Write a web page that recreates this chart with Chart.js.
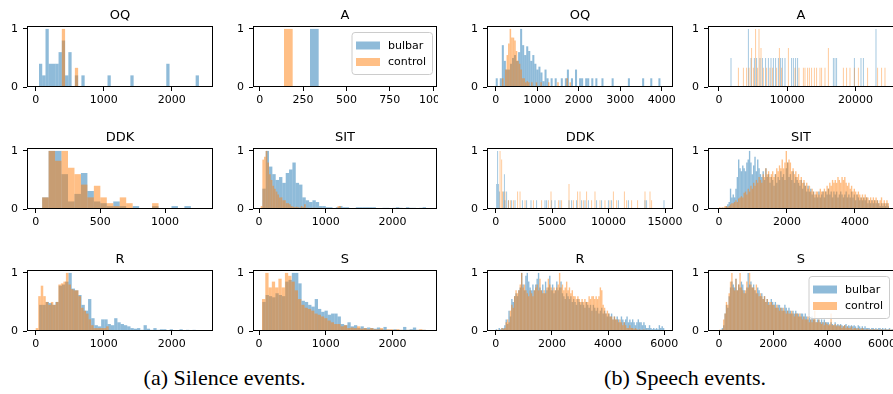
<!DOCTYPE html>
<html><head><meta charset="utf-8">
<script src="https://cdn.jsdelivr.net/npm/chart.js"></script>
<style>
html,body{margin:0;padding:0;background:#fff;overflow:hidden;width:893px;height:394px;position:relative;}
canvas{position:absolute;}
.cap{position:absolute;font-family:'Liberation Serif','Times New Roman',serif;font-size:22px;line-height:22px;white-space:nowrap;transform:translateX(-50%);color:#000;}
</style></head><body>
<div class="cap" style="left:224.5px;top:367px">(a) Silence events.</div>
<div class="cap" style="left:685px;top:367px">(b) Speech events.</div>
<script>
// ---------- series names ----------
const seriesNames = ['bulbar', 'control'];
const yTicks = [0, 1];

// ---------- (a) Silence events ----------
// bins: [first edge, bin width]
const silOQ_bin = [48, 48];
const silOQ_bulbar = [0.4,0.2,1,0.4,0.4,0.4,0.6,0.8,0.2,0.6, 0,0.2,0,0.2,0,0,0,0,0,0, 0,0.2,0,0,0,0,0,0,0.2,0, 0,0,0,0,0,0,0,0,0,0.4, 0,0,0,0,0,0,0,0,0.2,0];
const silOQ_control = [0,0,0,0,0,0,0,1,0,0,0,0.33];
const silOQ_ticks = [0, 1000, 2000];

const silA_bin = [140, 50];
const silA_bulbar = [0,0,0,1];
const silA_control = [1,0];
const silA_ticks = [0, 250, 500, 750, 1000];

const silDDK_bin = [50, 50];
const silDDK_bulbar = [0.2,1,1,0.6,0.13,0.26,0.62,0.31,0.13,0.1,0.05,0.13,0.05,0,0.05,0,0,0.05,0,0,0.05,0,0.05];
const silDDK_control = [0.2,1,0.83,1,0.71,0.6,0.42,0.2,0.4,0.2,0.1,0.05,0.2,0.1,0,0,0,0.1];
const silDDK_ticks = [0, 500, 1000];

const silSIT_bulbarBin = [50, 50];
const silSIT_bulbar = [0.35,1,0.73,0.6,0.5,0.55,0.45,0.62,0.68,0.8, 0.45,0.42,0.2,0.15,0.12,0.15,0.12,0.05,0.05,0.03, 0.03,0,0.03,0.05,0.03,0.03,0,0,0.03,0.03, 0.03,0.03,0.03,0.03,0,0,0.02,0.02,0,0.02, 0.03,0.02,0,0.03,0.02,0.02,0,0.02,0.03];
const silSIT_controlBin = [25, 25];
const silSIT_control = [0.05,0.85,0.9,1,0.8,0.6,0.5,0.4,0.35,0.3, 0.25,0.2,0.2,0.15,0.15,0.1,0.1,0.08,0.05,0.04, 0.03,0.04,0.03,0.02,0.05,0.03,0.08,0.02,0.02,0, 0.02,0.02,0.02,0,0.02,0,0.02,0,0,0, 0,0,0,0,0,0,0.05,0.05];
const silSIT_ticks = [0, 1000, 2000];

const silR_bulbarBin = [50, 48];
const silR_bulbar = [0.45,0.45,0.5,0.48,0.45,0.5,0.78,0.8,0.85,1, 0.73,0.7,0.62,0.45,0.35,0.55,0.22,0.1,0.08,0.2, 0.2,0.12,0.1,0.22,0.15,0.12,0.1,0.08,0.05,0.04, 0.05,0.02,0.1,0.04,0.02,0.05,0.02,0.03,0.03,0, 0.03,0,0,0.03,0,0.02,0,0.02,0,0];
const silR_controlBin = [0, 37];
const silR_control = [0.05,0.6,0.78,0.6,0.5,0.45,0.5,0.45,0.5,0.8, 0.82,0.85,1,0.8,0.72,0.7,0.7,0.6,0.4,0.35, 0.3,0.2,0.1,0.05,0.05,0.05,0.05,0.05,0.08,0.02];
const silR_ticks = [0, 1000, 2000];

const silS_bulbarBin = [50, 49];
const silS_bulbar = [0.5,0.62,0.6,0.58,0.65,0.62,0.6,0.85,0.88,1, 1,0.82,0.52,0.5,0.45,0.42,0.55,0.38,0.33,0.35, 0.28,0.3,0.3,0.25,0.12,0.1,0.15,0.08,0.1,0.05, 0.08,0.05,0.06,0.05,0.04,0.06,0.03,0.07,0.02,0.02, 0.03,0.02,0.02,0.07,0.02,0.03,0.06,0.02,0.02,0.02];
const silS_controlBin = [45, 49];
const silS_control = [0.55,1,0.75,0.85,0.75,0.9,0.75,1,0.95,0.85, 0.7,0.55,0.45,0.4,0.38,0.35,0.3,0.28,0.25,0.22, 0.18,0.15,0.12,0.12,0.08,0.1,0.05,0.06,0.05,0.08, 0.04,0.05,0.03,0.05,0.03,0.03,0.05,0.02,0.03,0.03, 0.02,0.03,0.02,0,0.02,0.02,0,0.02,0.03,0.02];
const silS_ticks = [0, 1000, 2000];

// ---------- (b) Speech events ----------
const spOQ_bulbarBin = [0, 49];
const spOQ_bulbar = [0.15,0,0.15,0.72,0.45,0.3,0.3,0.4,0.5,0.55, 0.45,0.6,1,0.72,0.55,0.7,0.62,0.45,0.55,0.4, 0.3,0.35,0.25,0.1,0.3,0.15,0,0.15,0,0.15, 0,0,0.15,0,0.15,0.3,0,0.15,0,0.3, 0,0.15,0.15,0,0.15,0.15,0,0.15,0,0.15, 0,0,0.15,0,0,0,0,0.15,0,0, 0,0,0,0,0,0.15,0,0,0,0, 0,0,0.15,0,0,0,0.15,0,0,0, 0.15];
const spOQ_controlBin = [150, 37];
const spOQ_control = [0.15,0,0.3,0.55,0.75,1,0.85,0.85,0.8,0.62, 0.45,0.4,0.3,0.15,0.15,0.08,0.1,0.08,0,0.08, 0,0,0.08,0,0,0.08,0,0,0,0, 0.08,0,0,0,0,0,0.08,0,0,0, 0,0,0.15,0,0.08];
const spOQ_ticks = [0, 1000, 2000, 3000, 4000];

const spA_bulbarX = [1757,4294,4685,5173,5514,6002,6344,6832,7222,7613,7954,8296,8686,9028,9272,9662,10638,10882,11224,11517,16738,16982,17226,19813,20789,21130,22985];
const spA_bulbarY = [0.5,1,0.5,0.5,0.5,0.5,0.5,0.5,0.5,0.5,0.5,0.5,0.5,0.5,0.5,0.5,0.5,0.5,0.5,0.5,0.5,0.5,0.5,0.5,0.5,0.5,1];
const spA_controlX = [2830,3562,4050,4392,4782,5026,5368,5661,5856,6149,6490,6978,7466,7857,8442,8833,9174,10150,11126,11712,12346,12590,12981,13225,13566,13957,14298,14786,15030,15518,16006,18202,18690,19178,19813,20398,21765,23229,23814,24302];
const spA_controlY = [0.33,0.33,0.33,0.33,0.67,0.33,1,0.33,1,0.67, 0.33,0.33,0.33,0.33,0.33,0.67,0.33,0.67,0.33,0.33, 0.33,0.33,0.33,0.33,0.33,0.33,0.33,0.33,0.33,0.33, 0.67,0.33,0.33,0.33,0.33,0.33,0.33,0.33,0.33,0.33];
const spA_ticks = [0, 10000, 20000];

const spDDK_bulbarX = [86,174,233,320,676,765,823,971,1119,1414, 1710,2359,2743,3127,3628,4366,4514,4957,5252,5695, 6492,6728,7171,7614,7909,8204,8943,9385,9976,10271, 10862,11748,13224,13371,14906];
const spDDK_bulbarY = [0.43,1,0.43,0.3,0.3,0.6,0.15,0.3,0.15,0.15, 0.15,0.15,0.15,0.15,0.15,0.15,0.15,0.15,0.15,0.15, 0.15,0.15,0.15,0.15,0.15,0.15,0.15,0.15,0.15,0.15, 0.15,0.15,0.15,0.15,0.15];
const spDDK_controlX = [384,532,591,823,1119,1296,1562,1946,2153,2596, 3334,4071,4661,4898,5547,5842,6492,6876,7260,7466, 7761,8056,8499,8794,9237,9680,10123,10418,10714,11393, 11600,12043,12574,13224,13667,13814];
const spDDK_controlY = [1,0.85,0.3,0.3,0.15,0.15,0.15,0.3,0.3,0.15, 0.15,0.15,0.15,0.3,0.15,0.15,0.43,0.15,0.3,0.3, 0.15,0.3,0.15,0.3,0.15,0.15,0.15,0.3,0.15,0.3, 0.15,0.15,0.15,0.3,0.3,0.15];
const spDDK_ticks = [0, 5000, 10000, 15000];

const spSIT_bin = [0, 40];
const spSIT_bulbar = [0,0,0,0.02,0.02,0.05,0.08,0.12,0.35,0.2, 0.25,0.2,0.35,0.55,0.85,0.7,0.65,0.75,0.7,0.65, 0.8,0.85,1,0.8,0.6,0.75,0.9,0.65,0.85,0.7, 0.6,0.55,0.65,0.5,0.7,0.55,0.6,0.45,0.55,0.5, 0.4,0.6,0.45,0.55,0.5,0.65,0.55,0.6,0.5,0.7, 0.8,0.55,0.6,0.5,0.65,0.45,0.55,0.5,0.45,0.4, 0.5,0.35,0.45,0.4,0.3,0.4,0.3,0.35,0.25,0.3, 0.2,0.25,0.2,0.3,0.2,0.25,0.3,0.2,0.3,0.25, 0.35,0.25,0.3,0.2,0.3,0.25,0.3,0.2,0.25,0.3, 0.25,0.2,0.25,0.3,0.2,0.25,0.2,0.3,0.2,0.25, 0.15,0.25,0.2,0.15,0.2,0.15,0.2,0.15,0.2,0.1, 0.15,0.1,0.15,0.1,0.15,0.1,0.15,0.1,0.05,0.1, 0.05,0.1,0.05,0.1,0.05];
const spSIT_control = [0.03,0.02,0.03,0.02,0.05,0.05,0.03,0.05,0.08,0.1, 0.1,0.12,0.15,0.12,0.18,0.2,0.22,0.2,0.28,0.3, 0.25,0.35,0.3,0.4,0.35,0.45,0.4,0.5,0.45,0.55, 0.5,0.45,0.6,0.55,0.7,0.6,0.65,0.55,0.6,0.65, 0.55,0.6,0.7,0.65,0.75,0.7,0.85,0.7,0.8,1, 0.8,0.85,0.8,0.65,0.7,0.6,0.65,0.55,0.6,0.5, 0.55,0.45,0.5,0.4,0.45,0.35,0.4,0.3,0.35,0.3, 0.25,0.3,0.3,0.25,0.35,0.3,0.3,0.35,0.3,0.4, 0.35,0.45,0.4,0.5,0.45,0.5,0.45,0.55,0.5,0.45, 0.55,0.5,0.55,0.45,0.4,0.45,0.35,0.4,0.3,0.35, 0.3,0.25,0.3,0.25,0.2,0.25,0.2,0.25,0.2,0.2, 0.15,0.2,0.15,0.2,0.15,0.2,0.15,0.1,0.15,0.2, 0.1,0.15,0.1,0.15,0.1];
const spSIT_ticks = [0, 2000, 4000];

const spR_bin = [0, 50];
const spR_bulbar = [0.03,0,0.05,0.03,0.05,0.05,0.1,0.2,0.12,0.35, 0.25,0.55,0.5,0.6,0.65,0.6,0.7,0.75,1,0.8, 0.7,0.95,1,0.85,0.75,0.7,0.8,0.7,0.8,0.9, 1,0.75,0.7,0.8,0.65,0.85,0.7,0.75,0.95,0.7, 0.8,0.65,0.7,0.85,0.7,0.75,0.85,0.65,0.6,0.55, 0.65,0.6,0.55,0.6,0.5,0.55,0.5,0.45,0.55,0.5, 0.45,0.5,0.45,0.4,0.5,0.45,0.4,0.45,0.35,0.45, 0.4,0.35,0.4,0.3,0.35,0.4,0.3,0.35,0.3,0.25, 0.3,0.25,0.3,0.2,0.25,0.2,0.25,0.2,0.15,0.25, 0.2,0.15,0.2,0.25,0.15,0.2,0.15,0.2,0.15,0.1, 0.15,0.2,0.15,0.15,0.1,0.15,0.1,0.05,0.05,0.1, 0.05,0.03,0.05,0.03,0.05,0.03,0.1,0.05,0.08,0.05];
const spR_control = [0,0.02,0,0.02,0.05,0.03,0.05,0.15,0.2,0.15, 0.35,0.45,0.4,0.6,0.7,0.65,0.7,0.8,1,0.75, 0.8,0.7,0.65,0.6,0.7,0.65,0.6,0.7,0.75,0.8, 0.7,0.9,0.7,0.65,0.7,0.65,0.75,0.9,0.8,0.75, 0.7,0.75,0.7,0.75,0.8,1,0.75,0.8,0.7,0.75, 0.85,0.7,0.75,0.65,0.7,0.6,0.6,0.55,0.6,0.55, 0.5,0.55,0.5,0.55,0.5,0.5,0.6,0.55,0.6,0.6, 0.55,0.6,0.55,0.6,0.75,0.7,0.45,0.4,0.3,0.35, 0.3,0.25,0.25,0.2,0.25,0.2,0.2,0.15,0.2,0.15, 0.1,0.15,0.1,0.05,0.05,0.1,0.05,0.05,0.03,0.05, 0.03,0.02,0.03,0,0.02,0.03,0,0.02];
const spR_ticks = [0, 2000, 4000, 6000];

const spS_bin = [0, 50];
const spS_bulbar = [0,0.02,0.05,0.1,0.3,0.45,0.4,0.6,0.75,0.85, 0.8,0.75,0.9,0.7,0.8,0.75,0.85,0.8,0.7,0.65, 0.75,1,0.8,0.85,0.75,0.8,0.7,0.65,0.75,0.7, 0.6,0.65,0.55,0.6,0.5,0.55,0.5,0.45,0.55,0.5, 0.45,0.5,0.4,0.45,0.45,0.4,0.4,0.35,0.45,0.4, 0.35,0.4,0.35,0.3,0.35,0.3,0.35,0.3,0.3,0.25, 0.3,0.3,0.25,0.3,0.25,0.2,0.25,0.2,0.25,0.2, 0.2,0.15,0.2,0.2,0.15,0.2,0.15,0.2,0.15,0.15, 0.15,0.1,0.15,0.12,0.1,0.15,0.1,0.12,0.1,0.12, 0.1,0.08,0.1,0.12,0.08,0.1,0.08,0.1,0.08,0.1, 0.08,0.05,0.1,0.08,0.05,0.08,0.05,0.08,0.05,0.05, 0.05,0.03,0.05,0.05,0.03,0.05,0.03,0.05,0.05,0.03, 0.05,0.03,0.05,0.03,0.03,0.05,0.02,0.03,0.03];
const spS_control = [0.02,0,0.03,0.2,0.3,0.5,0.45,0.65,0.85,1, 0.75,0.7,0.9,0.7,0.8,1,0.75,0.7,0.65,0.7, 0.85,0.75,1,0.8,0.75,0.75,0.7,0.8,0.65,0.6, 0.65,0.6,0.55,0.6,0.5,0.55,0.45,0.5,0.5,0.45, 0.45,0.4,0.45,0.4,0.35,0.4,0.35,0.4,0.35,0.3, 0.35,0.3,0.3,0.35,0.3,0.25,0.3,0.3,0.25,0.3, 0.25,0.2,0.25,0.2,0.2,0.25,0.15,0.2,0.15,0.2, 0.35,0.15,0.15,0.2,0.15,0.12,0.15,0.1,0.15,0.12, 0.1,0.12,0.3,0.1,0.1,0.12,0.08,0.1,0.08,0.1, 0.05,0.08,0.1,0.05,0.08,0.05,0.05,0.08,0.03,0.05, 0.05,0.03,0.05,0.03,0.03,0.05,0.03,0.02,0.03,0.03, 0.02,0.03,0.02,0.03,0.03,0.02,0.03,0.02,0.02,0.03, 0.02,0.02,0.03,0.02,0.02,0.03,0.02,0.02,0.03];
const spS_ticks = [0, 2000, 4000, 6000];

// ---------- helpers ----------
function binned(bin, vals) { return vals.map((v, i) => ({ x: bin[0] + (i + 0.5) * bin[1], y: v })); }
function spikes(xs, ys) { return xs.map((x, i) => ({ x: x, y: ys[i] })); }

const BLUE = 'rgba(31,119,180,0.5)';
const ORANGE = 'rgba(255,127,14,0.5)';
Chart.defaults.font.family = "'DejaVu Sans', sans-serif";
Chart.defaults.font.size = 11;
Chart.defaults.color = '#000';

// layout (frame positions in page pixels)
const COLS = [{ L: 27, W: 186, PR: 20 }, { L: 253, W: 184, PR: 1 }, { L: 487, W: 186, PR: 20 }, { L: 708, W: 186, PR: 10 }];
const ROWS = [26, 148, 270];
const PH = 61, PL = 30, PT = 24, PB = 22;

const panels = [
  { t: 'OQ', c: 0, r: 0, xr: [-128, 2607], ticks: silOQ_ticks, b: binned(silOQ_bin, silOQ_bulbar), o: binned(silOQ_bin, silOQ_control) },
  { t: 'A', c: 1, r: 0, xr: [-39, 1023], ticks: silA_ticks, b: binned(silA_bin, silA_bulbar), o: binned(silA_bin, silA_control), legend: true },
  { t: 'DDK', c: 0, r: 1, xr: [-67, 1371], ticks: silDDK_ticks, b: binned(silDDK_bin, silDDK_bulbar), o: binned(silDDK_bin, silDDK_control) },
  { t: 'SIT', c: 1, r: 1, xr: [-90, 2665], ticks: silSIT_ticks, b: binned(silSIT_bulbarBin, silSIT_bulbar), o: binned(silSIT_controlBin, silSIT_control) },
  { t: 'R', c: 0, r: 2, xr: [-128, 2607], ticks: silR_ticks, b: binned(silR_bulbarBin, silR_bulbar), o: binned(silR_controlBin, silR_control) },
  { t: 'S', c: 1, r: 2, xr: [-90, 2665], ticks: silS_ticks, b: binned(silS_bulbarBin, silS_bulbar), o: binned(silS_controlBin, silS_control) },
  { t: 'OQ', c: 2, r: 0, xr: [-210, 4272], ticks: spOQ_ticks, b: binned(spOQ_bulbarBin, spOQ_bulbar), o: binned(spOQ_controlBin, spOQ_control) },
  { t: 'A', c: 3, r: 0, xr: [-1610, 25622], ticks: spA_ticks, b: spikes(spA_bulbarX, spA_bulbarY), o: spikes(spA_controlX, spA_controlY), thin: true },
  { t: 'DDK', c: 2, r: 1, xr: [-771, 15704], ticks: spDDK_ticks, b: spikes(spDDK_bulbarX, spDDK_bulbarY), o: spikes(spDDK_controlX, spDDK_controlY), thin: true },
  { t: 'SIT', c: 3, r: 1, xr: [-323, 5147], ticks: spSIT_ticks, b: binned(spSIT_bin, spSIT_bulbar), o: binned(spSIT_bin, spSIT_control) },
  { t: 'R', c: 2, r: 2, xr: [-310, 6310], ticks: spR_ticks, b: binned(spR_bin, spR_bulbar), o: binned(spR_bin, spR_control) },
  { t: 'S', c: 3, r: 2, xr: [-405, 6441], ticks: spS_ticks, b: binned(spS_bin, spS_bulbar), o: binned(spS_bin, spS_control), legend: true }
];

const deco = {
  id: 'deco',
  afterDatasetsDraw(chart, args, opts) {
    const ctx = chart.ctx, ca = chart.chartArea;
    ctx.save();
    ctx.strokeStyle = '#000';
    ctx.lineWidth = 1;
    ctx.strokeRect(ca.left + 0.5, ca.top + 0.5, ca.right - ca.left - 1, ca.bottom - ca.top - 1);
    ctx.fillStyle = '#000';
    ctx.font = "13px 'DejaVu Sans'";
    ctx.textAlign = 'center';
    ctx.textBaseline = 'alphabetic';
    ctx.fillText(opts.title, (ca.left + ca.right) / 2, ca.top - 7);
    if (opts.legend) {
      const bw = 80.5, bh = 42;
      const bx = ca.right - 5 - bw, by = ca.top + 6;
      ctx.beginPath();
      ctx.roundRect(bx + 0.5, by + 0.5, bw, bh, 3);
      ctx.fillStyle = 'rgba(255,255,255,0.8)';
      ctx.fill();
      ctx.strokeStyle = '#cccccc';
      ctx.stroke();
      ctx.font = "11px 'DejaVu Sans'";
      ctx.textAlign = 'left';
      ctx.textBaseline = 'middle';
      chart.data.datasets.forEach((ds, i) => {
        const py = by + 9.5 + i * 16.5;
        ctx.fillStyle = ds.backgroundColor;
        ctx.fillRect(bx + 4.5, py, 24, 8);
        ctx.fillStyle = '#000';
        ctx.fillText(ds.label, bx + 36.5, py + 4.5);
      });
    }
    ctx.restore();
  }
};

panels.forEach((p) => {
  const col = COLS[p.c];
  const T = ROWS[p.r];
  const cv = document.createElement('canvas');
  const w = PL + col.W + col.PR, h = PT + PH + PB;
  cv.width = w; cv.height = h;
  cv.style.width = w + 'px'; cv.style.height = h + 'px';
  cv.style.left = (col.L - PL) + 'px';
  cv.style.top = (T - PT) + 'px';
  document.body.appendChild(cv);
  const barOpts = { borderWidth: 0, inflateAmount: 0, grouped: false, barPercentage: 1, categoryPercentage: 1 };
  if (p.thin) barOpts.barThickness = 0.8;
  const tickGrid = { display: true, drawOnChartArea: false, drawTicks: true, tickLength: 4, color: '#000', lineWidth: 1, offset: false };
  new Chart(cv, {
    type: 'bar',
    data: {
      datasets: [
        Object.assign({ label: seriesNames[0], data: p.b, xAxisID: 'x', yAxisID: 'y', backgroundColor: BLUE, order: 1 }, barOpts),
        Object.assign({ label: seriesNames[1], data: p.o, xAxisID: 'x2', yAxisID: 'y', backgroundColor: ORANGE, order: 0 }, barOpts)
      ]
    },
    options: {
      responsive: false, animation: false, events: [], devicePixelRatio: 1,
      layout: { padding: { left: 0, top: PT, right: col.PR, bottom: 0 } },
      plugins: { legend: { display: false }, tooltip: { enabled: false }, title: { display: false }, deco: { title: p.t, legend: !!p.legend } },
      scales: {
        x: {
          type: 'linear', position: 'bottom', min: p.xr[0], max: p.xr[1], offset: false,
          afterBuildTicks: (s) => { s.ticks = p.ticks.map(v => ({ value: v })); },
          afterFit: (s) => { s.height = PB; s.paddingLeft = 0; s.paddingRight = 0; },
          grid: tickGrid, border: { display: false },
          ticks: { padding: 3, maxRotation: 0, autoSkip: false, color: '#000', font: { size: 11 }, callback: (v) => String(v) }
        },
        x2: { type: 'linear', display: false, min: p.xr[0], max: p.xr[1], offset: false, grid: { offset: false },
              afterBuildTicks: (s) => { s.ticks = p.ticks.map(v => ({ value: v })); } },
        y: {
          type: 'linear', position: 'left', min: 0, max: 1.05,
          afterBuildTicks: (s) => { s.ticks = yTicks.map(v => ({ value: v })); },
          afterFit: (s) => { s.width = PL; s.paddingTop = 0; s.paddingBottom = 0; },
          grid: tickGrid, border: { display: false },
          ticks: { padding: 5, color: '#000', font: { size: 11 }, callback: (v) => String(v) }
        }
      }
    },
    plugins: [deco]
  });
});
</script>
</body></html>
